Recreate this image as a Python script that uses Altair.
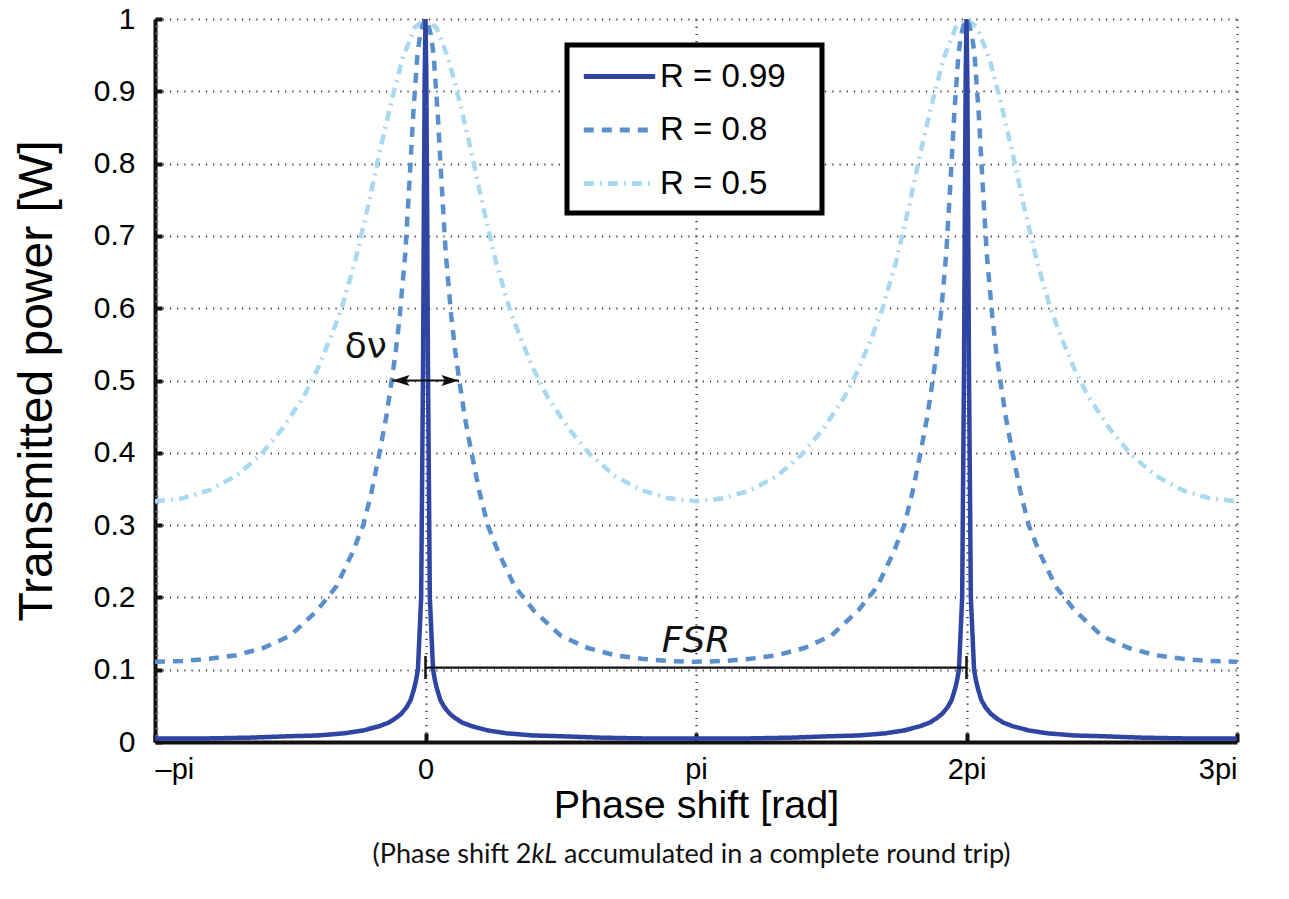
import altair as alt
import pandas as pd

# ---------------- data (x in units of pi) ----------------
SERIES = ["R = 0.99", "R = 0.8", "R = 0.5"]
COLORS = ["#2f44a3", "#5a8fcc", "#a9d9f1"]
DASHES = [[1, 0], [10, 8], [10, 6, 2, 6]]
PEAKS = [0, 2]

# profile around each transmission peak: offset from the peak -> transmitted power
OFF_R99 = [0, 0.003, 0.006, 0.009, 0.013, 0.016, 0.022, 0.028, 0.035, 0.042, 0.055,
           0.07, 0.09, 0.11, 0.135, 0.17, 0.23, 0.3, 0.4, 0.5, 0.65, 0.8, 1.0]
VAL_R99 = [1.0, 0.92, 0.74, 0.52, 0.34, 0.2, 0.15, 0.1, 0.085, 0.074, 0.058,
           0.048, 0.039, 0.033, 0.027, 0.022, 0.016, 0.012, 0.009, 0.008, 0.006, 0.005, 0.005]

OFF_R80 = [0, 0.01, 0.02, 0.03, 0.045, 0.06, 0.075, 0.095, 0.11, 0.125, 0.145, 0.17,
           0.2, 0.23, 0.27, 0.33, 0.4, 0.5, 0.6, 0.7, 0.8, 0.9, 1.0]
VAL_R80 = [1.0, 0.992, 0.978, 0.95, 0.87, 0.77, 0.675, 0.59, 0.54, 0.5, 0.45, 0.4,
           0.345, 0.3, 0.262, 0.215, 0.182, 0.147, 0.13, 0.12, 0.115, 0.112, 0.111]

OFF_R50 = [0, 0.04, 0.085, 0.13, 0.17, 0.21, 0.26, 0.31, 0.35, 0.4, 0.45, 0.53,
           0.61, 0.7, 0.8, 0.9, 1.0]
VAL_R50 = [1.0, 0.988, 0.945, 0.88, 0.815, 0.745, 0.665, 0.6, 0.56, 0.515, 0.478, 0.433,
           0.397, 0.368, 0.348, 0.337, 0.333]

X_TICKS = [-1, 0, 1, 2, 3]
X_TICK_LABELS = ["\u2013pi", "0", "pi", "2pi", "3pi"]
Y_TICKS = [0, 0.1, 0.2, 0.3, 0.4, 0.5, 0.6, 0.7, 0.8, 0.9, 1.0]
Y_MINOR = [i / 100 for i in range(101)]

# annotations (data coordinates)
DNU_ARROW_X = [-0.123, 0.123]
DNU_ARROW_Y = 0.5
DNU_TEXT = "\u03b4\u03bd"
DNU_TEXT_X, DNU_TEXT_Y = -0.221, 0.547
FSR_X = [0, 2]
FSR_Y = 0.103
FSR_BAR = [0.087, 0.119]
FSR_TEXT = "FSR"
FSR_TEXT_X, FSR_TEXT_Y = 1, 0.125
SUB_PARTS = ["(Phase shift 2", "kL", "\u00a0accumulated in a complete round trip)"]
SUB_X = [0.392, 0.392, 0.512]
SUB_Y = -0.168

# ---------------- build table ----------------
rows = []
for name, offs, vals in [("R = 0.5", OFF_R50, VAL_R50),
                         ("R = 0.8", OFF_R80, VAL_R80),
                         ("R = 0.99", OFF_R99, VAL_R99)]:
    pts = {}
    for c in PEAKS:
        for o, v in zip(offs, vals):
            for s in (-1, 1):
                x = round(c + s * o, 4)
                if -1 <= x <= 3:
                    pts[x] = v
    for x in sorted(pts):
        rows.append({"series": name, "x": x, "y": pts[x]})
df = pd.DataFrame(rows)

W, H = 1082, 723
xs = alt.Scale(domain=[-1, 3], nice=False, zero=False)
ys = alt.Scale(domain=[0, 1], nice=False, zero=False)

label_expr = ""
for v, l in zip(X_TICKS, X_TICK_LABELS):
    label_expr += f"datum.value == {v} ? '{l}' : "
label_expr += "''"

FONT = "Liberation Sans"

legend = alt.Legend(
    title=None, orient="none", legendX=412, legendY=26,
    symbolType="M-2.1,0L2.1,0", symbolSize=1156, symbolStrokeWidth=5,
    symbolOffset=21, labelOffset=21, labelLimit=400,
    labelFontSize=33, labelFont=FONT, labelColor="black",
    labelExpr="datum.label + '\u2800'",
    padding=12, rowPadding=16.5, strokeColor="black", fillColor="white",
)

lines = alt.Chart(df).mark_line(strokeWidth=4.5, clip=True).encode(
    x=alt.X("x:Q", scale=xs, axis=alt.Axis(
        values=X_TICKS, labelExpr=label_expr, title="Phase shift [rad]",
        grid=True, ticks=False, domainWidth=4, domainColor="#111",
        labelFontSize=29, labelFont=FONT, labelColor="black", labelPadding=13,
        titleFontSize=39.5, titleFont=FONT, titleFontWeight="normal", titleColor="black",
        titlePadding=2)),
    y=alt.Y("y:Q", scale=ys, axis=alt.Axis(
        values=Y_TICKS, format=".1~f", title="Transmitted power [W]",
        grid=True, ticks=False, domainWidth=4, domainColor="#111",
        labelFontSize=30, labelFont=FONT, labelColor="black", labelPadding=20,
        titleFontSize=48, titleFont=FONT, titleFontWeight="normal", titleColor="black",
        titlePadding=32)),
    color=alt.Color("series:N", scale=alt.Scale(domain=SERIES, range=COLORS), legend=legend),
    strokeDash=alt.StrokeDash("series:N", scale=alt.Scale(domain=SERIES, range=DASHES), legend=legend),
)

base0 = alt.Chart(df).mark_line(opacity=0)
minor_y = base0.encode(
    x=alt.X("x:Q", scale=xs, axis=None),
    y=alt.Y("y:Q", scale=ys, axis=alt.Axis(
        orient="left", values=Y_MINOR, labels=False, domain=False, grid=False,
        ticks=True, tickSize=3, offset=-3, tickColor="#777", tickWidth=1.5, title=None)),
)
major_y = base0.encode(
    x=alt.X("x:Q", scale=xs, axis=None),
    y=alt.Y("y:Q", scale=ys, axis=alt.Axis(
        orient="left", values=Y_TICKS, labels=False, domain=False, grid=False,
        ticks=True, tickSize=7, offset=-7, tickColor="#111", tickWidth=4, title=None)),
)
major_x = base0.encode(
    y=alt.Y("y:Q", scale=ys, axis=None),
    x=alt.X("x:Q", scale=xs, axis=alt.Axis(
        orient="bottom", values=X_TICKS, labels=False, domain=False, grid=False,
        ticks=True, tickSize=9, offset=-9, tickColor="#111", tickWidth=4, title=None)),
)

# --- annotations ---
ann_line = pd.DataFrame({"x": [DNU_ARROW_X[0], FSR_X[0]], "x2": [DNU_ARROW_X[1], FSR_X[1]],
                         "y": [DNU_ARROW_Y, FSR_Y]})
hrules = alt.Chart(ann_line).mark_rule(color="#111", strokeWidth=2.2).encode(
    x=alt.X("x:Q", scale=xs, axis=None), x2="x2:Q",
    y=alt.Y("y:Q", scale=ys, axis=None))

bars = pd.DataFrame({"x": FSR_X, "y": [FSR_BAR[0]] * 2, "y2": [FSR_BAR[1]] * 2})
vrules = alt.Chart(bars).mark_rule(color="#111", strokeWidth=2.5).encode(
    x=alt.X("x:Q", scale=xs, axis=None),
    y=alt.Y("y:Q", scale=ys, axis=None), y2="y2:Q")

heads = pd.DataFrame({"x": DNU_ARROW_X, "y": [DNU_ARROW_Y] * 2,
                      "shape": ["left", "right"]})
head_l = alt.Chart(heads).transform_filter("datum.shape == 'left'").mark_point(
    shape="M0,0 L1,-0.32 L0.8,0 L1,0.32 Z", filled=True, color="#111", size=1200, opacity=1
).encode(x=alt.X("x:Q", scale=xs, axis=None), y=alt.Y("y:Q", scale=ys, axis=None))
head_r = alt.Chart(heads).transform_filter("datum.shape == 'right'").mark_point(
    shape="M0,0 L-1,-0.32 L-0.8,0 L-1,0.32 Z", filled=True, color="#111", size=1200, opacity=1
).encode(x=alt.X("x:Q", scale=xs, axis=None), y=alt.Y("y:Q", scale=ys, axis=None))

dnu = alt.Chart(pd.DataFrame({"x": [DNU_TEXT_X], "y": [DNU_TEXT_Y], "t": [DNU_TEXT]})).mark_text(
    font="DejaVu Sans", fontSize=36, color="#111", align="center", baseline="middle"
).encode(x=alt.X("x:Q", scale=xs, axis=None), y=alt.Y("y:Q", scale=ys, axis=None), text="t:N")

fsr = alt.Chart(pd.DataFrame({"x": [FSR_TEXT_X], "y": [FSR_TEXT_Y], "t": [FSR_TEXT]})).mark_text(
    font="DejaVu Sans", fontSize=36, fontStyle="italic", color="#111", align="center",
    baseline="alphabetic"
).encode(x=alt.X("x:Q", scale=xs, axis=None), y=alt.Y("y:Q", scale=ys, axis=None), text="t:N")

SUB_FONT = "Lato"
SUB_SIZE = 27
sub_df = pd.DataFrame({"x": SUB_X, "y": [SUB_Y] * 3, "t": SUB_PARTS, "i": [0, 1, 2]})
sub1 = alt.Chart(sub_df).transform_filter("datum.i == 0").mark_text(
    font=SUB_FONT, fontSize=SUB_SIZE, color="#111", align="right", baseline="alphabetic", clip=False
).encode(x=alt.X("x:Q", scale=xs, axis=None), y=alt.Y("y:Q", scale=ys, axis=None), text="t:N")
sub2 = alt.Chart(sub_df).transform_filter("datum.i == 1").mark_text(
    font=SUB_FONT, fontSize=SUB_SIZE, fontStyle="italic", color="#111", align="left",
    baseline="alphabetic", clip=False
).encode(x=alt.X("x:Q", scale=xs, axis=None), y=alt.Y("y:Q", scale=ys, axis=None), text="t:N")
sub3 = alt.Chart(sub_df).transform_filter("datum.i == 2").mark_text(
    font=SUB_FONT, fontSize=SUB_SIZE, color="#111", align="left", baseline="alphabetic", clip=False
).encode(x=alt.X("x:Q", scale=xs, axis=None), y=alt.Y("y:Q", scale=ys, axis=None), text="t:N")

chart = alt.layer(
    lines, minor_y, major_y, major_x, hrules, vrules, head_l, head_r, dnu, fsr, sub1, sub2, sub3
).resolve_scale(x="independent", y="independent").properties(
    width=W, height=H,
    autosize=alt.AutoSizeParams(type="none"),
    padding={"left": 147, "top": 11, "right": 44, "bottom": 140},
    background="white",
).configure_view(stroke=None).configure_axis(
    gridDash=[1.2, 6], gridColor="#3a3a3a", gridWidth=2.2
).configure_legend(strokeWidth=5)

chart.save("out.html", embed_options={"renderer": "svg", "actions": False})
